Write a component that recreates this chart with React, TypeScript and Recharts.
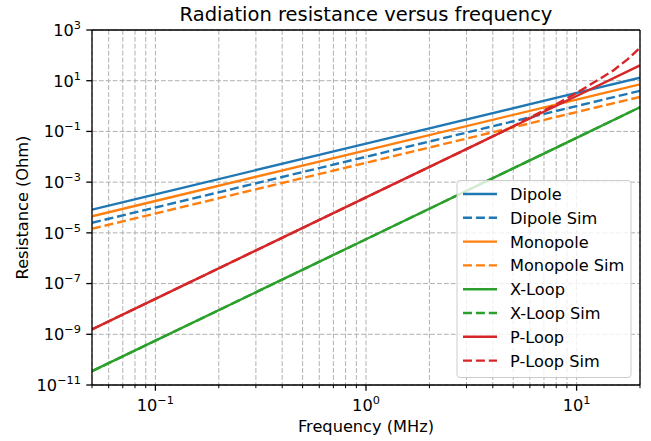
import { CartesianGrid, Line, LineChart, ReferenceLine, XAxis, YAxis } from "recharts"

const FREQ = [0.05, 0.1, 1, 10, 20]
const DIPOLE = [8.25e-5, 3.3e-4, 0.033, 3.3, 13.2]
const DIPOLE_SIM = [2.5e-5, 1.0e-4, 0.01, 1.0, 4.0]
const MONOPOLE = [4.5e-5, 1.8e-4, 0.018, 1.8, 7.2]
const MONOPOLE_SIM = [1.45e-5, 5.8e-5, 0.0058, 0.58, 2.3]
const XLOOP = [3.5e-11, 5.6e-10, 5.6e-6, 0.056, 0.9]
const XLOOP_SIM = [3.5e-11, 5.6e-10, 5.6e-6, 0.056, 0.9]
const PLOOP = [1.56e-9, 2.5e-8, 2.5e-4, 2.5, 40]
const PLOOP_SIM_FREQ = [0.05, 0.1, 1, 3, 5, 7, 8, 10, 12, 15, 17.5, 20]
const PLOOP_SIM = [1.56e-9, 2.5e-8, 2.5e-4, 0.02, 0.16, 0.68, 1.17, 3.3, 8.3, 26, 71, 200]

const X_TICKS = [
  0.05, 0.06, 0.07, 0.08, 0.09, 0.1, 0.2, 0.3, 0.4, 0.5, 0.6, 0.7, 0.8, 0.9,
  1, 2, 3, 4, 5, 6, 7, 8, 9, 10, 20,
]
const Y_TICKS = [1e-11, 1e-9, 1e-7, 1e-5, 1e-3, 1e-1, 1e1, 1e3]

const BLUE = "#1f77b4"
const ORANGE = "#ff7f0e"
const GREEN = "#2ca02c"
const RED = "#d62728"
const DASH = "9 3.9"
const FONT = "DejaVu Sans, sans-serif"
const FS = 16.2
const SUP = 11.3

const SERIES = [
  { name: "Dipole", color: BLUE, dashed: false, freq: FREQ, values: DIPOLE },
  { name: "Dipole Sim", color: BLUE, dashed: true, freq: FREQ, values: DIPOLE_SIM },
  { name: "Monopole", color: ORANGE, dashed: false, freq: FREQ, values: MONOPOLE },
  { name: "Monopole Sim", color: ORANGE, dashed: true, freq: FREQ, values: MONOPOLE_SIM },
  { name: "X-Loop", color: GREEN, dashed: false, freq: FREQ, values: XLOOP },
  { name: "X-Loop Sim", color: GREEN, dashed: true, freq: FREQ, values: XLOOP_SIM },
  { name: "P-Loop", color: RED, dashed: false, freq: FREQ, values: PLOOP },
  { name: "P-Loop Sim", color: RED, dashed: true, freq: PLOOP_SIM_FREQ, values: PLOOP_SIM },
]

function expLabel(v: number) {
  const e = Math.round(Math.log10(v))
  return e < 0 ? `\u2212${-e}` : `${e}`
}

function XTick({ x, y, payload }: any) {
  const v = payload.value
  const major = Math.abs(Math.log10(v) - Math.round(Math.log10(v))) < 1e-6
  return (
    <g>
      <line x1={x} x2={x} y1={y} y2={y + (major ? 5.7 : 3.2)} stroke="#000" strokeWidth={major ? 1.3 : 1} />
      {major && (
        <text x={x} y={y + 26} textAnchor="middle" fontSize={FS} fontFamily={FONT} fill="#000">
          10
          <tspan dy={-7} fontSize={SUP}>
            {expLabel(v)}
          </tspan>
        </text>
      )}
    </g>
  )
}

function YTick({ x, y, payload }: any) {
  return (
    <g>
      <line x1={x - 5.7} x2={x} y1={y} y2={y} stroke="#000" strokeWidth={1.3} />
      <text x={x - 11} y={y + 5.9} textAnchor="end" fontSize={FS} fontFamily={FONT} fill="#000">
        10
        <tspan dy={-7} fontSize={SUP}>
          {expLabel(payload.value)}
        </tspan>
      </text>
    </g>
  )
}

export default function App() {
  return (
    <div style={{ position: "absolute", left: 0, top: 0, width: 651, height: 441, background: "#fff" }}>
      <LineChart width={651} height={441} margin={{ top: 30, right: 11, bottom: 0, left: 0 }}>
        <CartesianGrid stroke="#b0b0b0" strokeDasharray="4.8 2.1" strokeWidth={1} />
        <XAxis
          type="number"
          dataKey="f"
          scale="log"
          domain={[0.05, 20]}
          ticks={X_TICKS}
          interval={0}
          allowDataOverflow
          height={56}
          tickLine={false}
          tickSize={0}
          tickMargin={0}
          tick={<XTick />}
          axisLine={{ stroke: "#000", strokeWidth: 1.3 }}
        />
        <YAxis
          type="number"
          dataKey="r"
          scale="log"
          domain={[1e-11, 1e3]}
          ticks={Y_TICKS}
          interval={0}
          allowDataOverflow
          width={92}
          tickLine={false}
          tickSize={0}
          tickMargin={0}
          tick={<YTick />}
          axisLine={{ stroke: "#000", strokeWidth: 1.3 }}
        />
        {SERIES.map((s) => (
          <Line
            key={s.name}
            name={s.name}
            data={s.freq.map((f, i) => ({ f, r: s.values[i] }))}
            dataKey="r"
            type="linear"
            stroke={s.color}
            strokeWidth={2.4}
            strokeDasharray={s.dashed ? DASH : undefined}
            dot={false}
            activeDot={false}
            isAnimationActive={false}
          />
        ))}
        <ReferenceLine y={1e3} stroke="#000" strokeWidth={1.3} />
        <ReferenceLine x={20} stroke="#000" strokeWidth={1.3} />
      </LineChart>
      <svg
        width={651}
        height={441}
        style={{ position: "absolute", left: 0, top: 0, pointerEvents: "none" }}
        fontFamily={FONT}
      >
        <text x={366} y={20.5} textAnchor="middle" fontSize={19.5} fill="#000">
          Radiation resistance versus frequency
        </text>
        <text x={366} y={432} textAnchor="middle" fontSize={FS} fill="#000">
          Frequency (MHz)
        </text>
        <text
          x={0}
          y={0}
          transform="translate(27.5 207.5) rotate(-90)"
          textAnchor="middle"
          fontSize={FS}
          fill="#000"
        >
          Resistance (Ohm)
        </text>
        <g>
          <rect x={457} y={180.5} width={174} height={197} rx={3} fill="#fff" fillOpacity={0.8} stroke="#cccccc" strokeWidth={1} />
          {SERIES.map((s, i) => {
            const cy = 194 + i * 23.8
            return (
              <g key={s.name}>
                <line
                  x1={463}
                  x2={497}
                  y1={cy}
                  y2={cy}
                  stroke={s.color}
                  strokeWidth={2.4}
                  strokeDasharray={s.dashed ? DASH : undefined}
                />
                <text x={510} y={cy + 5.9} fontSize={FS} fill="#000">
                  {s.name}
                </text>
              </g>
            )
          })}
        </g>
      </svg>
    </div>
  )
}
